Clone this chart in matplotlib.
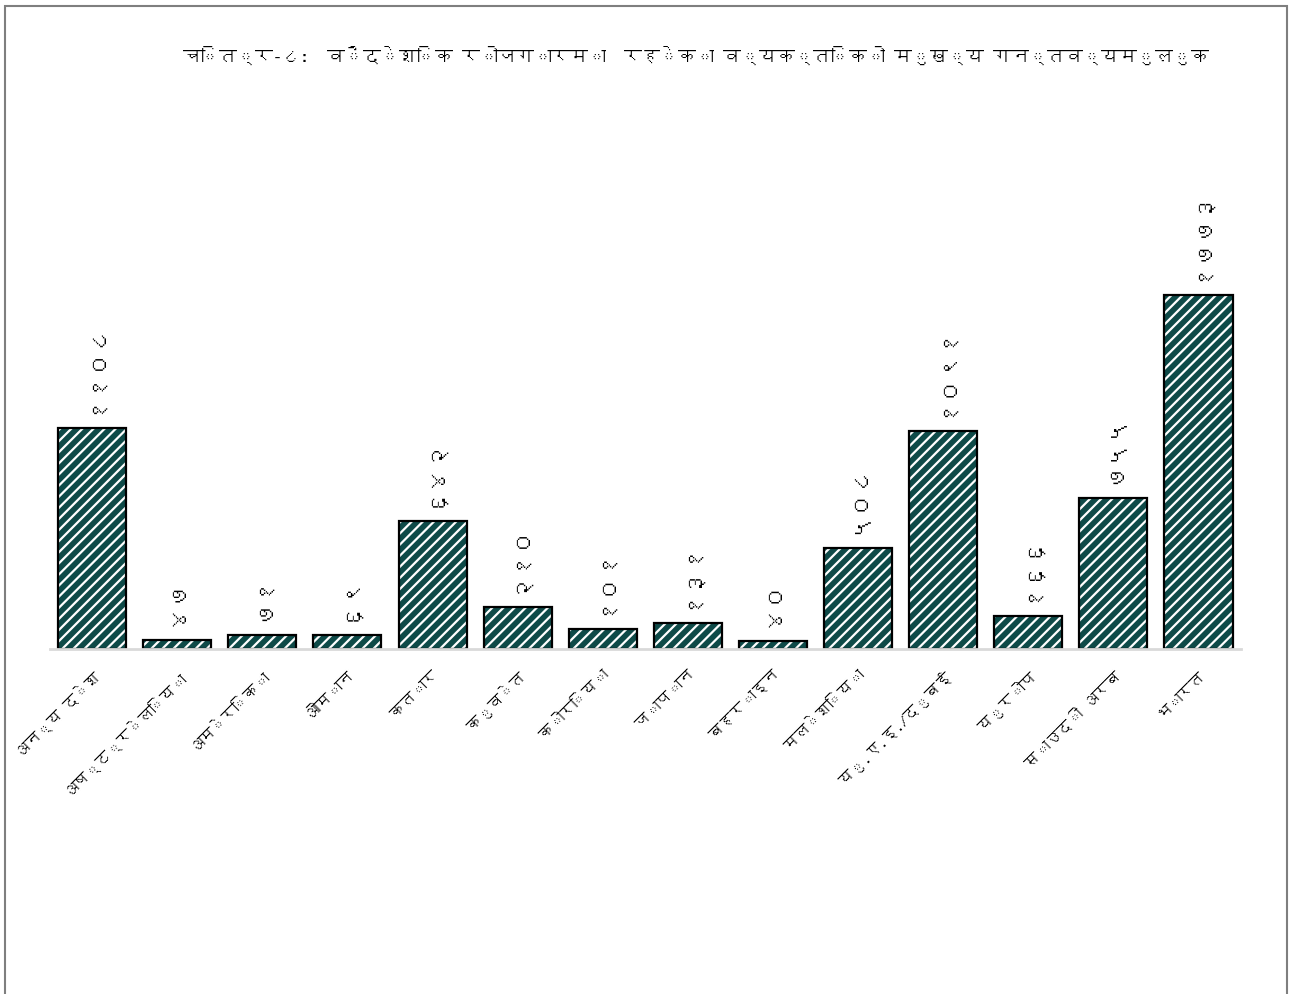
import matplotlib

matplotlib.use("Agg")

import matplotlib.pyplot as plt
from matplotlib import font_manager
from matplotlib.ft2font import FT2Font
from matplotlib.patches import Rectangle


countries = [
    "अन्य देश",
    "अष्ट्रेलिया",
    "अमेरिका",
    "ओमान",
    "कतार",
    "कुवेत",
    "कोरिया",
    "जापान",
    "बहराइन",
    "मलेशिया",
    "यु.ए.इ./दुबई",
    "युरोप",
    "साउदी अरब",
    "भारत",
]

persons = [1108, 47, 71, 69, 642, 210, 101, 131, 40, 508, 1091, 166, 755, 1773]

title_text = "चित्र-८:  वैदेशिक रोजगारमा  रहेका व्यक्तिको मुख्य गन्तव्यमुलुक"

NEPALI_DIGITS = "०१२३४५६७८९"


def to_nepali(num):
    return "".join(NEPALI_DIGITS[int(d)] for d in str(num))


def find_devanagari_font():
    # look for any installed font that actually has Devanagari glyphs
    for path in font_manager.findSystemFonts():
        try:
            cmap = FT2Font(path).get_charmap()
        except Exception:
            continue
        if 0x0915 in cmap and 0x0966 in cmap:
            return font_manager.FontProperties(fname=path).get_name()
    return None


deva = find_devanagari_font()
families = [deva, "DejaVu Sans"] if deva else ["DejaVu Sans"]
plt.rcParams["font.family"] = families
plt.rcParams["hatch.linewidth"] = 1.6

fig = plt.figure(figsize=(12.91, 9.94), dpi=100)
ax = fig.add_axes([0.0384, 0.3471, 0.9229, 0.4517])

x = range(len(countries))

# hatched fill, then black outline on top
ax.bar(
    x,
    persons,
    width=0.8,
    color="#0e4a48",
    edgecolor="white",
    hatch="///",
    linewidth=0,
)
ax.bar(
    x,
    persons,
    width=0.8,
    fill=False,
    edgecolor="black",
    linewidth=1.6,
)

for xi, val in zip(x, persons):
    ax.annotate(
        to_nepali(val),
        xy=(xi, val),
        xytext=(0, 10),
        textcoords="offset points",
        rotation=90,
        ha="center",
        va="bottom",
        fontsize=17,
        color="black",
    )

ax.set_xlim(-0.5, len(countries) - 0.5)
ax.set_ylim(0, 2248)

ax.set_xticks(list(x))
ax.set_xticklabels(
    countries,
    rotation=45,
    ha="right",
    rotation_mode="anchor",
    fontsize=11,
)
ax.tick_params(axis="x", length=0, pad=14)
ax.set_yticks([])

for side in ["top", "right", "left"]:
    ax.spines[side].set_visible(False)
ax.spines["bottom"].set_color("#d9d9d9")
ax.spines["bottom"].set_linewidth(2)

fig.text(
    183 / 1291,
    1 - 55 / 994,
    title_text,
    ha="left",
    va="center",
    fontsize=13,
)

fig.patches.append(
    Rectangle(
        (5 / 1291, -0.01),
        1282 / 1291,
        1 - 6 / 994 + 0.01,
        transform=fig.transFigure,
        fill=False,
        edgecolor="#7f7f7f",
        linewidth=1.5,
    )
)

fig.savefig("out.png", dpi=100)
plt.close(fig)
